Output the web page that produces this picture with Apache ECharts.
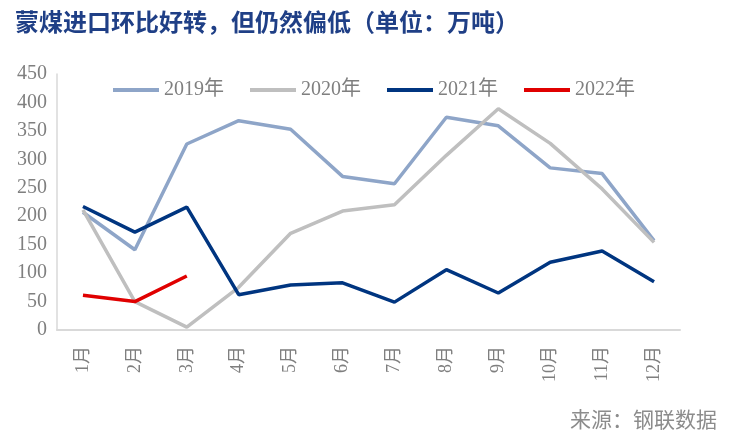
<!DOCTYPE html>
<html>
<head>
<meta charset="utf-8">
<script src="https://cdn.jsdelivr.net/npm/echarts@6/dist/echarts.min.js"></script>
<style>
html,body{margin:0;padding:0;background:#fff;}
#chart{width:752px;height:438px;}
</style>
</head>
<body>
<div id="chart"></div>
<script>
const categories = ['1月','2月','3月','4月','5月','6月','7月','8月','9月','10月','11月','12月'];
const seriesNames = ['2019年','2020年','2021年','2022年'];
const data2019 = [207, 141, 327, 368, 353, 270, 257, 374, 359, 285, 275, 157];
const data2020 = [211, 50, 5, 75, 170, 209, 220, 307, 389, 328, 248, 154];
const data2021 = [217, 172, 216, 62, 79, 83, 49, 106, 65, 119, 139, 85];
const data2022 = [61, 50, 95];
const yTicks = [0, 50, 100, 150, 200, 250, 300, 350, 400, 450];

const colors = ['#8ea5c8', '#bfbfbf', '#003580', '#e00000'];
const serif = '"Liberation Serif", "Noto Sans CJK SC", serif';
const allData = [data2019, data2020, data2021, data2022];

const chart = echarts.init(document.getElementById('chart'));
chart.setOption({
  animation: false,
  backgroundColor: '#fff',
  title: [{
    text: '蒙煤进口环比好转，但仍然偏低（单位：万吨）',
    left: 10, top: 5,
    textStyle: { fontFamily: '"Noto Sans CJK SC", serif', fontSize: 24, fontWeight: 'bold', color: '#1f3f86' }
  }, {
    text: '来源：钢联数据',
    right: 30, top: 404,
    textStyle: { fontFamily: '"Noto Sans CJK SC", serif', fontSize: 21, fontWeight: 'normal', color: '#8c8c8c' }
  }],
  legend: {
    top: 75, left: 108,
    itemWidth: 46, itemHeight: 4, itemGap: 26,
    icon: 'rect',
    data: seriesNames,
    textStyle: { fontFamily: serif, fontSize: 20, color: '#7f7f7f' }
  },
  grid: { left: 57, right: 72, top: 74, bottom: 108 },
  xAxis: {
    type: 'category',
    data: categories,
    boundaryGap: true,
    axisLine: { lineStyle: { color: '#d9d9d9', width: 2 } },
    axisTick: { show: false },
    axisLabel: { rotate: 90, margin: 16, fontFamily: serif, fontSize: 18, color: '#7f7f7f' }
  },
  yAxis: {
    type: 'value',
    min: 0, max: 450, interval: 50,
    axisLine: { show: true, lineStyle: { color: '#d9d9d9', width: 1.5 } },
    axisTick: { show: false },
    splitLine: { show: false },
    axisLabel: {
      margin: 10, fontFamily: serif, fontSize: 20, color: '#7f7f7f',
      formatter: v => yTicks.includes(v) ? String(v) : ''
    }
  },
  series: seriesNames.map((n, i) => ({
    name: n, type: 'line', data: allData[i],
    symbol: 'none', smooth: false,
    lineStyle: { color: colors[i], width: 3.5 },
    itemStyle: { color: colors[i] },
    z: i === 3 ? 5 : 2
  }))
});
</script>
</body>
</html>
